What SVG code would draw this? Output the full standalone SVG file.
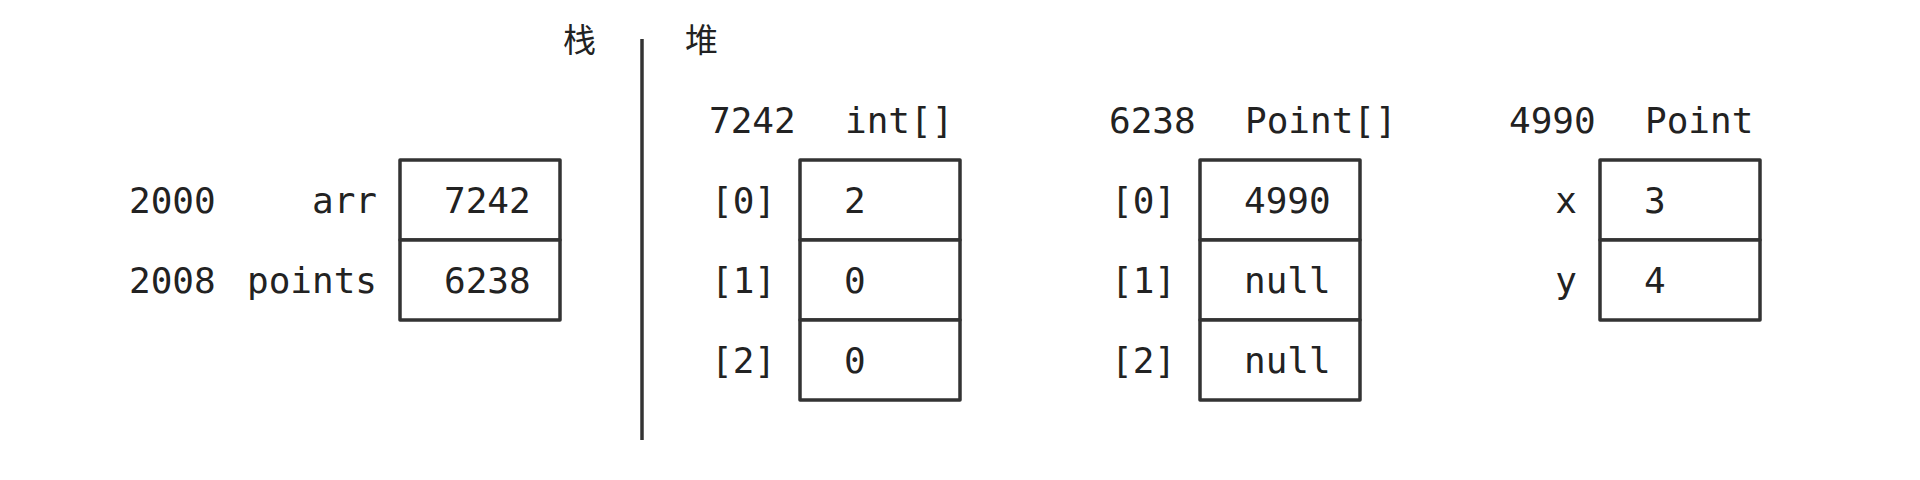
<svg xmlns="http://www.w3.org/2000/svg" width="1920" height="480" viewBox="0 0 1920 480">
<style>
  text { font-family: "DejaVu Sans Mono", "Liberation Mono", monospace; font-size: 36px; fill: #222; }
  .cjk { font-family: "Noto Sans CJK SC", "DejaVu Sans", sans-serif; font-size: 33px; }
  .end { text-anchor: end; }
  .box { fill: #fff; stroke: #333; stroke-width: 3.5; stroke-linejoin: round; }
  .sep { stroke: #333; stroke-width: 3.5; fill: none; }
</style>
<rect width="1920" height="480" fill="#fff"/>
<g id="headings">
  <text class="cjk" x="563" y="52">栈</text>
  <text class="cjk" x="685" y="52">堆</text>
</g>
<g id="connectors">
  <line class="sep" x1="642" y1="39" x2="642" y2="440"/>
</g>
<g id="stack">
  <rect class="box" x="400" y="160" width="160" height="80"/>
  <rect class="box" x="400" y="240" width="160" height="80"/>
  <text x="129" y="213">2000</text>
  <text x="129" y="293">2008</text>
  <text class="end" x="377" y="213">arr</text>
  <text class="end" x="377" y="293">points</text>
  <text x="444" y="213">7242</text>
  <text x="444" y="293">6238</text>
</g>
<g id="intArray">
  <text x="709" y="133">7242</text>
  <text x="845" y="133">int[]</text>
  <rect class="box" x="800" y="160" width="160" height="80"/>
  <rect class="box" x="800" y="240" width="160" height="80"/>
  <rect class="box" x="800" y="320" width="160" height="80"/>
  <text class="end" x="776" y="213">[0]</text>
  <text class="end" x="776" y="293">[1]</text>
  <text class="end" x="776" y="373">[2]</text>
  <text x="844" y="213">2</text>
  <text x="844" y="293">0</text>
  <text x="844" y="373">0</text>
</g>
<g id="pointArray">
  <text x="1109" y="133">6238</text>
  <text x="1245" y="133">Point[]</text>
  <rect class="box" x="1200" y="160" width="160" height="80"/>
  <rect class="box" x="1200" y="240" width="160" height="80"/>
  <rect class="box" x="1200" y="320" width="160" height="80"/>
  <text class="end" x="1176" y="213">[0]</text>
  <text class="end" x="1176" y="293">[1]</text>
  <text class="end" x="1176" y="373">[2]</text>
  <text x="1244" y="213">4990</text>
  <text x="1244" y="293">null</text>
  <text x="1244" y="373">null</text>
</g>
<g id="point">
  <text x="1509" y="133">4990</text>
  <text x="1645" y="133">Point</text>
  <rect class="box" x="1600" y="160" width="160" height="80"/>
  <rect class="box" x="1600" y="240" width="160" height="80"/>
  <text class="end" x="1577" y="213">x</text>
  <text class="end" x="1577" y="293">y</text>
  <text x="1644" y="213">3</text>
  <text x="1644" y="293">4</text>
</g>
</svg>
